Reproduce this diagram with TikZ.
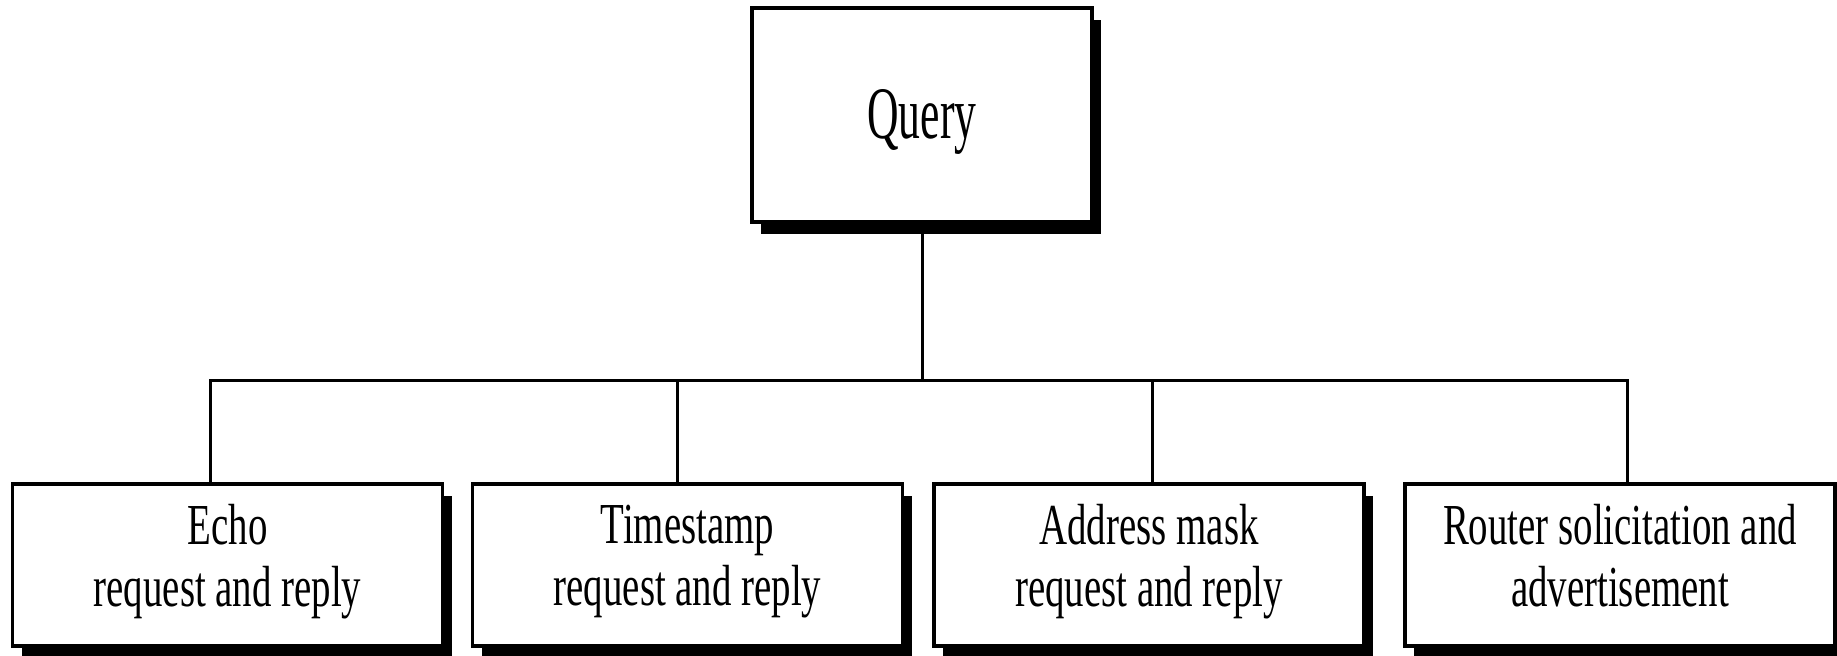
\documentclass[tikz,border=0pt]{standalone}
\usepackage{fontspec}
\setmainfont[FakeStretch=0.67]{Liberation Serif}
\newfontfamily\queryfont[FakeStretch=0.59]{Liberation Serif}
\usetikzlibrary{positioning}
\usetikzlibrary{shadows}

\tikzset{
  msgbox/.style={draw, line width=1.7pt, fill=white, align=center,
    minimum width=215pt, minimum height=81pt, inner sep=0pt,
    font=\fontsize{29}{31}\selectfont,
    execute at begin node=\rule{0pt}{28pt}, execute at end node=\strut,
    drop shadow={fill=black, opacity=1, shadow xshift=4.5pt, shadow yshift=-6pt}},
  link/.style={line width=1.5pt}
}

\begin{document}
\begin{tikzpicture}[x=0.5pt, y=-0.5pt]
    \useasboundingbox (0,0) rectangle (1837,656);

    \node[msgbox, minimum width=170pt, minimum height=107pt,
          font=\queryfont\fontsize{37}{40}\selectfont,
          execute at begin node={}, execute at end node={},
          text height=36pt] (query) at (922,115) {Query};

    \node[msgbox] (echo)   at (227.5,565) {Echo\\request and reply};
    \node[msgbox] (stamp)  at (687.5,565) {Timestamp\\request and reply};
    \node[msgbox] (mask)   at (1149,565)  {Address mask\\request and reply};
    \node[msgbox] (router) at (1620,565)  {Router solicitation and\\advertisement};

    % tree lines
    \coordinate (hub) at (922,381);
    \draw[link] (query.south) -- (hub);
    \foreach \n/\dx in {echo/-8.5pt, stamp/-5pt, mask/1.5pt, router/3.5pt}
      \draw[link] ([xshift=\dx]\n.north) |- (hub);
  \end{tikzpicture}
\end{document}
